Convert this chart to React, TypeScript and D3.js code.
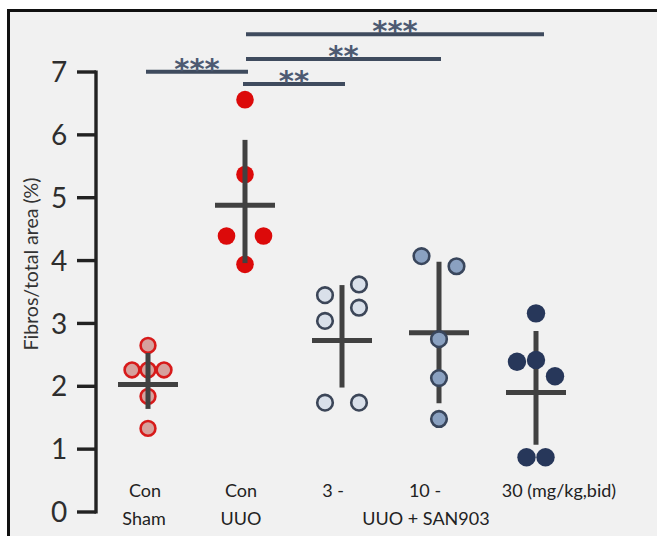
import React from "react";
import * as d3 from "d3";

// ---- data ----
const groups = ["Con Sham", "Con UUO", "3", "10", "30"];
const labelLine1 = ["Con", "Con", "3 -", "10 -", "30 (mg/kg,bid)"];
const labelLine2 = ["Sham", "UUO", "", "UUO + SAN903", ""];

const shamValues = [2.65, 2.26, 2.26, 2.26, 1.84, 1.33];
const shamSlots = [0, -1, 0, 1, 0, 0];
const uuoValues = [6.56, 5.37, 4.39, 4.39, 3.94];
const uuoSlots = [0, 0, -1, 1, 0];
const san3Values = [3.62, 3.45, 3.25, 3.04, 1.74, 1.74];
const san3Slots = [1, -1, 1, -1, -1, 1];
const san10Values = [4.07, 3.91, 2.75, 2.13, 1.48];
const san10Slots = [-1, 1, 0, 0, 0];
const san30Values = [3.16, 2.42, 2.39, 2.16, 0.87, 0.87];
const san30Slots = [0, 0, -1, 1, -0.5, 0.5];

const means = [2.03, 4.88, 2.73, 2.85, 1.9];
const errHigh = [2.53, 5.92, 3.61, 3.98, 2.88];
const errLow = [1.64, 3.96, 1.98, 1.73, 1.07];

const yTicks = [0, 1, 2, 3, 4, 5, 6, 7];
const sigFrom = [0, 1, 1, 1];
const sigTo = [1, 2, 3, 4];
const sigLabels = ["***", "**", "**", "***"];

// ---- layout / style ----
const W = 657;
const H = 536;
const groupValues = [shamValues, uuoValues, san3Values, san10Values, san30Values];
const groupSlots = [shamSlots, uuoSlots, san3Slots, san10Slots, san30Slots];
const slotWidth = [16, 18.5, 17, 17.5, 19];
const dotFill = ["#d6a19d", "#dc0a0a", "#d9e0ea", "#8aa1c1", "#27375a"];
const dotStroke = ["#d71a1a", "#dc0a0a", "#3c4658", "#39465c", "#27375a"];
const dotR = [7.4, 8.8, 7.8, 7.8, 9.2];
const dotSW = [2.6, 0, 2.6, 2.6, 0];
const barsOnTop = [true, true, false, false, false];
const line1Dx = [-3, -4, -9, -14, 23];
const line2Dx = [-4, -4, 0, -13, 0];
const sigRowY = [71.7, 84, 59, 34.3];
const sigStartPad = [-2, -2, 1, 1];
const sigEndPad = [3, 3, 2, 8];
const barColor = "#414141";
const sigColor = "#3f4b5e";
const starColor = "#4d5a72";

export default function App() {
  const y = d3.scaleLinear().domain([0, 7]).range([512, 72]);
  const x = d3.scalePoint<string>().domain(groups).range([148, 536]);

  const renderBars = (gi: number) => {
    const cx = x(groups[gi])!;
    return (
      <g key={"bar" + gi}>
        <line x1={cx} x2={cx} y1={y(errHigh[gi])} y2={y(errLow[gi])} stroke={barColor} strokeWidth={5} />
        <line x1={cx - 30} x2={cx + 30} y1={y(means[gi])} y2={y(means[gi])} stroke={barColor} strokeWidth={5} />
      </g>
    );
  };
  const renderDots = (gi: number) => {
    const cx = x(groups[gi])!;
    return (
      <g key={"dots" + gi}>
        {groupValues[gi].map((v, i) => (
          <circle
            key={i}
            cx={cx + groupSlots[gi][i] * slotWidth[gi]}
            cy={y(v)}
            r={dotR[gi]}
            fill={dotFill[gi]}
            stroke={dotStroke[gi]}
            strokeWidth={dotSW[gi]}
          />
        ))}
      </g>
    );
  };

  return (
    <svg
      width={W}
      height={H}
      style={{ position: "absolute", left: 0, top: 0, background: "#ffffff" }}
    >
      <rect x={8} y={10} width={W - 8} height={H - 10} fill="#f1f1f1" />
      <line x1={8.5} x2={8.5} y1={9} y2={H} stroke="#111" strokeWidth={3} />
      <line x1={7} x2={W} y1={10.5} y2={10.5} stroke="#111" strokeWidth={3} />

      {/* y axis */}
      <line x1={96} x2={96} y1={y(7) - 1.6} y2={y(0) + 1.6} stroke="#222" strokeWidth={3.4} />
      {yTicks.map((t) => (
        <g key={t}>
          <line x1={77} x2={96} y1={y(t)} y2={y(t)} stroke="#222" strokeWidth={3.4} />
          <text
            x={59}
            y={y(t)}
            dy="0.36em"
            textAnchor="middle"
            fontFamily="Lato, 'Open Sans', sans-serif"
            fontSize={28}
            fill="#2e2e2e"
          >
            {t}
          </text>
        </g>
      ))}
      <text
        transform={`translate(31,264) rotate(-90)`}
        textAnchor="middle"
        dy="0.35em"
        fontFamily="Lato, 'Open Sans', sans-serif"
        fontSize={19.5}
        fill="#333"
      >
        Fibros/total area (%)
      </text>

      {/* groups */}
      {groups.map((g, gi) =>
        barsOnTop[gi] ? (
          <g key={g}>
            {renderDots(gi)}
            {renderBars(gi)}
          </g>
        ) : (
          <g key={g}>
            {renderBars(gi)}
            {renderDots(gi)}
          </g>
        )
      )}

      {/* x labels */}
      {groups.map((g, gi) => (
        <g key={"lab" + g} fontFamily="Lato, 'Open Sans', sans-serif" fontSize={18} fill="#222">
          <text x={x(g)! + line1Dx[gi]} y={497} textAnchor="middle">
            {labelLine1[gi]}
          </text>
          {labelLine2[gi] && (
            <text x={x(g)! + line2Dx[gi]} y={525} textAnchor="middle">
              {labelLine2[gi]}
            </text>
          )}
        </g>
      ))}

      {/* significance */}
      {sigLabels.map((s, i) => {
        const x1 = x(groups[sigFrom[i]])! + sigStartPad[i];
        const x2 = x(groups[sigTo[i]])! + sigEndPad[i];
        const yy = sigRowY[i];
        return (
          <g key={"sig" + i}>
            <line x1={x1} x2={x2} y1={yy} y2={yy} stroke={sigColor} strokeWidth={4} />
            <text
              x={(x1 + x2) / 2}
              y={yy + 7}
              textAnchor="middle"
              fontFamily="'DejaVu Sans', sans-serif"
              fontWeight="bold"
              fontSize={29}
              fill={starColor}
            >
              {s}
            </text>
          </g>
        );
      })}
    </svg>
  );
}
